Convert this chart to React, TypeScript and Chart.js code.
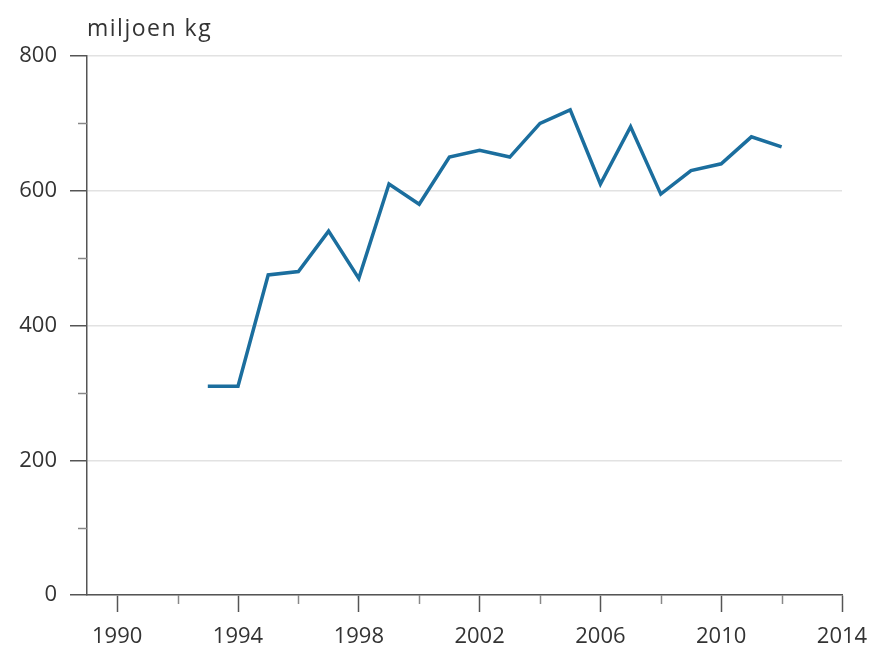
import React, { useEffect, useRef } from "react";
import { Chart, registerables } from "chart.js";

Chart.register(...registerables);

const years = [1993, 1994, 1995, 1996, 1997, 1998, 1999, 2000, 2001, 2002, 2003, 2004, 2005, 2006, 2007, 2008, 2009, 2010, 2011, 2012];
const values = [310, 310, 475, 480, 540, 470, 610, 580, 650, 660, 650, 700, 720, 610, 695, 595, 630, 640, 680, 665];
const xMajorTicks = [1990, 1994, 1998, 2002, 2006, 2010, 2014];
const xMinorTicks = [1992, 1996, 2000, 2004, 2008, 2012];
const yMajorTicks = [0, 200, 400, 600, 800];
const yMinorTicks = [100, 300, 500, 700];
const unitLabel = "miljoen kg";

const FONT = "'Open Sans', sans-serif";
const TEXT = "#333";
const AXIS = "#555";

const extras = {
  id: "extras",
  afterDraw(chart: any) {
    const ctx = chart.ctx;
    const xs = chart.scales.x;
    const ys = chart.scales.y;
    const area = chart.chartArea;
    ctx.save();
    ctx.strokeStyle = "#888";
    ctx.lineWidth = 1.5;
    xMinorTicks.forEach((v) => {
      const px = Math.round(xs.getPixelForValue(v)) + 0.5;
      ctx.beginPath();
      ctx.moveTo(px, area.bottom);
      ctx.lineTo(px, area.bottom + 9);
      ctx.stroke();
    });
    yMinorTicks.forEach((v) => {
      const py = Math.round(ys.getPixelForValue(v)) + 0.5;
      ctx.beginPath();
      ctx.moveTo(area.left - 9, py);
      ctx.lineTo(area.left, py);
      ctx.stroke();
    });
    ctx.fillStyle = TEXT;
    ctx.font = `23px ${FONT}`;
    try { (ctx as any).letterSpacing = "1.5px"; } catch (e) {}
    ctx.textAlign = "left";
    ctx.textBaseline = "middle";
    ctx.fillText(unitLabel, area.left, 29);
    ctx.restore();
  },
};

export default function App() {
  const ref = useRef<HTMLCanvasElement>(null);
  useEffect(() => {
    if (!ref.current) return;
    const chart = new Chart(ref.current, {
      type: "line",
      data: {
        datasets: [
          {
            data: years.map((y, i) => ({ x: y, y: values[i] })),
            borderColor: "#1b6e9e",
            borderWidth: 3.5,
            pointRadius: 0,
            tension: 0,
            fill: false,
          },
        ],
      },
      options: {
        animation: false,
        responsive: true,
        maintainAspectRatio: false,
        layout: { padding: { left: 0, right: 28, top: 56, bottom: 0 } },
        plugins: { legend: { display: false }, tooltip: { enabled: false }, title: { display: false } },
        scales: {
          x: {
            type: "linear",
            min: 1989,
            max: 2014,
            afterBuildTicks: (scale: any) => {
              scale.ticks = xMajorTicks.map((v) => ({ value: v }));
            },
            afterFit: (scale: any) => {
              scale.height = 56;
              scale.paddingLeft = 0;
              scale.paddingRight = 0;
            },
            grid: {
              drawOnChartArea: false,
              drawTicks: true,
              tickLength: 17,
              tickColor: AXIS,
              tickWidth: 1.5,
              color: AXIS,
            },
            border: { display: true, color: AXIS, width: 1.5 },
            ticks: {
              autoSkip: false,
              maxRotation: 0,
              padding: 12,
              color: TEXT,
              font: { family: FONT, size: 22 },
              callback: (v: any) => String(v),
            },
          },
          y: {
            type: "linear",
            min: 0,
            max: 800,
            afterBuildTicks: (scale: any) => {
              scale.ticks = yMajorTicks.map((v) => ({ value: v }));
            },
            afterFit: (scale: any) => {
              scale.width = 87;
              scale.paddingTop = 0;
              scale.paddingBottom = 0;
            },
            grid: {
              drawOnChartArea: true,
              drawTicks: true,
              tickLength: 17,
              tickColor: AXIS,
              tickWidth: 1.5,
              color: "#e2e2e2",
              lineWidth: 1.5,
            },
            border: { display: true, color: AXIS, width: 1.5 },
            ticks: {
              padding: 13,
              color: TEXT,
              font: { family: FONT, size: 22 },
            },
          },
        },
      },
      plugins: [extras],
    });
    return () => chart.destroy();
  }, []);
  return (
    <div style={{ position: "fixed", left: 0, top: 0, width: 870, height: 651, background: "#fff" }}>
      <canvas ref={ref} />
    </div>
  );
}
